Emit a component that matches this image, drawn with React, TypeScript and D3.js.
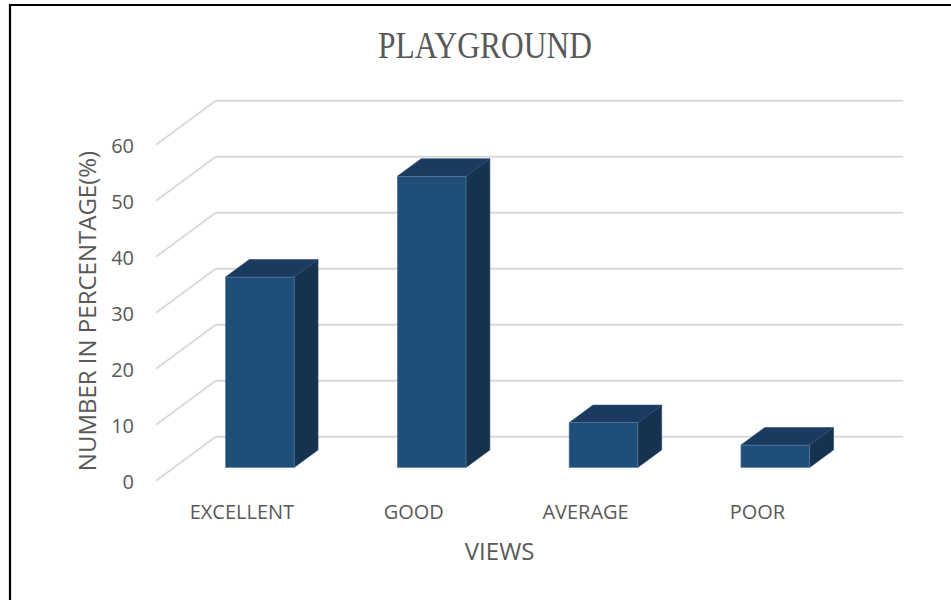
import React from "react";
import * as d3 from "d3";

const categories = ["EXCELLENT", "GOOD", "AVERAGE", "POOR"];
const values = [34, 52, 8, 4];
const yTicks = [0, 10, 20, 30, 40, 50, 60];
const chartTitle = "PLAYGROUND";
const xTitle = "VIEWS";
const yTitle = "NUMBER IN PERCENTAGE(%)";

const W = 951;
const H = 600;
// back wall geometry
const backLeft = 215.7;
const backRight = 903;
const backBottom = 436.7;
const backTop = 100.7;
// full depth vector from back to front
const DX = -59.7;
const DY = 44;

const grey = "#595959";

export default function App() {
  const x = d3.scaleBand<string>().domain(categories).range([backLeft, backRight]).paddingInner(0).paddingOuter(0);
  const y = d3.scaleLinear().domain([0, 60]).range([backBottom, backTop]);
  const bw = x.bandwidth() * 0.4;
  const fFront = 0.7;
  const fBack = 0.3;
  const sideDX = -(fFront - fBack) * DX;
  const sideDY = -(fFront - fBack) * DY;

  return (
    <svg width={W} height={H} style={{ position: "absolute", left: 0, top: 0, background: "#fff" }}>
      <path d={`M10,${H + 5} V5 H${W + 5}`} fill="none" stroke="#000" strokeWidth={2.2} />
      <text
        x={485}
        y={58}
        textAnchor="middle"
        fontFamily="'Liberation Serif', 'DejaVu Serif', serif"
        fontSize={38}
        fill={grey}
        textLength={214}
        lengthAdjust="spacingAndGlyphs"
      >
        {chartTitle}
      </text>
      {/* gridlines: back wall + side wall */}
      {yTicks.map((t) => (
        <g key={t}>
          <path
            d={`M${backLeft + DX},${y(t) + DY} L${backLeft},${y(t)} H${backRight}`}
            fill="none"
            stroke="#d9d9d9"
            strokeWidth={1.9}
          />
          <text
            x={134}
            y={y(t) + DY + 3}
            textAnchor="end"
            dominantBaseline="middle"
            fontFamily="'Open Sans', sans-serif"
            fontSize={20}
            fill={grey}
          >
            {t}
          </text>
        </g>
      ))}
      {/* bars */}
      {categories.map((c, i) => {
        const cx = (x(c) as number) + x.bandwidth() / 2 + fFront * DX;
        const x0 = cx - bw / 2;
        const x1 = cx + bw / 2;
        const yb = y(0) + fFront * DY;
        const yt = y(values[i]) + fFront * DY;
        const top = `M${x0},${yt} L${x0 + sideDX},${yt + sideDY} L${x1 + sideDX},${yt + sideDY} L${x1},${yt} Z`;
        const side = `M${x1},${yt} L${x1 + sideDX},${yt + sideDY} L${x1 + sideDX},${yb + sideDY} L${x1},${yb} Z`;
        return (
          <g key={c}>
            <path d={side} fill="#17324f" stroke="#2b4a6b" strokeWidth={0.6} />
            <path d={top} fill="#1a3b5f" stroke="#2b4a6b" strokeWidth={0.6} />
            <rect x={x0} y={yt} width={x1 - x0} height={yb - yt} fill="#1f4e79" stroke="#5a7fa3" strokeWidth={0.6} />
          </g>
        );
      })}
      {/* category labels */}
      {categories.map((c) => (
        <text
          key={c}
          x={(x(c) as number) + x.bandwidth() / 2 + DX}
          y={519}
          textAnchor="middle"
          fontFamily="'Open Sans', sans-serif"
          fontSize={20}
          fill={grey}
        >
          {c}
        </text>
      ))}
      <text
        x={(backLeft + backRight) / 2 + DX}
        y={560}
        textAnchor="middle"
        fontFamily="'Open Sans', sans-serif"
        fontSize={24}
        fill={grey}
      >
        {xTitle}
      </text>
      <text
        transform={`translate(96,311) rotate(-90)`}
        textAnchor="middle"
        fontFamily="'Open Sans', sans-serif"
        fontSize={24}
        fill={grey}
      >
        {yTitle}
      </text>
    </svg>
  );
}
